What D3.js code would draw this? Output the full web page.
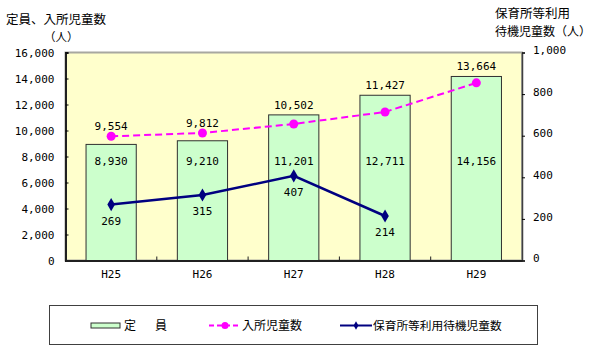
<!DOCTYPE html>
<html>
<head>
<meta charset="utf-8">
<script src="https://cdn.jsdelivr.net/npm/d3@7"></script>
<style>
  body { margin: 0; background: #fff; }
  svg text { font-family: "DejaVu Sans Mono", monospace; fill: #000; }
  svg text.jp { font-family: "Noto Sans CJK JP", sans-serif; }
</style>
</head>
<body>
<div id="chart"></div>
<script>
const categories = ['H25', 'H26', 'H27', 'H28', 'H29']
const capacity = [8930, 9210, 11201, 12711, 14156]
const enrolled = [9554, 9812, 10502, 11427, 13664]
const waiting = [269, 315, 407, 214, null]
const leftTicks = [0, 2000, 4000, 6000, 8000, 10000, 12000, 14000, 16000]
const rightTicks = [0, 200, 400, 600, 800, 1000]

const width = 597
const height = 353
const plot = { left: 65.5, right: 522, top: 52.5, bottom: 260.5 }

const svg = d3
  .select('#chart')
  .append('svg')
  .attr('width', width)
  .attr('height', height)

const xScale = d3.scaleBand().domain(categories).range([plot.left, plot.right])
const yLeft = d3.scaleLinear().domain([0, 16000]).range([plot.bottom, plot.top])
const yRight = d3.scaleLinear().domain([0, 1000]).range([plot.bottom, plot.top])
const fmt = d3.format(',')
const barW = xScale.bandwidth() * 0.55
const cx = c => xScale(c) + xScale.bandwidth() / 2

// plot background + border
svg
  .append('rect')
  .attr('x', plot.left)
  .attr('y', plot.top)
  .attr('width', plot.right - plot.left)
  .attr('height', plot.bottom - plot.top)
  .attr('fill', '#ffffcc')
  .attr('stroke', '#a8a8a0')
  .attr('stroke-width', 2)

// bars
svg
  .selectAll('.bar')
  .data(categories)
  .join('rect')
  .attr('class', 'bar')
  .attr('x', c => cx(c) - barW / 2)
  .attr('y', (c, i) => yLeft(capacity[i]))
  .attr('width', barW)
  .attr('height', (c, i) => plot.bottom - yLeft(capacity[i]))
  .attr('fill', '#ccffcc')
  .attr('stroke', '#303030')
  .attr('stroke-width', 1)

// axes
const leftAxis = d3
  .axisLeft(yLeft)
  .tickValues(leftTicks)
  .tickSize(-3)
  .tickPadding(11)
  .tickFormat(fmt)
const rightAxis = d3
  .axisRight(yRight)
  .tickValues(rightTicks)
  .tickSize(3)
  .tickPadding(8)
  .tickFormat(fmt)
const bottomAxis = d3.axisBottom(xScale).tickSize(0).tickPadding(10)

svg
  .append('g')
  .attr('transform', `translate(${plot.left},0)`)
  .call(leftAxis)
  .call(g => g.select('.domain').attr('stroke', '#202020').attr('stroke-width', 2))
  .call(g => g.selectAll('text').attr('font-size', 11).attr('font-family', 'DejaVu Sans Mono'))
svg
  .append('g')
  .attr('transform', `translate(${plot.right},0)`)
  .call(rightAxis)
  .call(g => g.select('.domain').attr('stroke', '#404040').attr('stroke-width', 1.5))
  .call(g => g.selectAll('text').attr('font-size', 11).attr('font-family', 'DejaVu Sans Mono').attr('dy', '0.1em'))
svg
  .append('g')
  .attr('transform', `translate(0,${plot.bottom})`)
  .call(bottomAxis)
  .call(g => g.select('.domain').attr('stroke', '#202020').attr('stroke-width', 2))
  .call(g => g.selectAll('text').attr('font-size', 11).attr('font-family', 'DejaVu Sans Mono'))

// category separator ticks on bottom axis
svg
  .selectAll('.sep')
  .data(categories.slice(1))
  .join('line')
  .attr('x1', c => xScale(c))
  .attr('x2', c => xScale(c))
  .attr('y1', plot.bottom)
  .attr('y2', plot.bottom - 4)
  .attr('stroke', '#202020')

// bar labels
svg
  .selectAll('.barlabel')
  .data(categories)
  .join('text')
  .attr('x', cx)
  .attr('y', 165)
  .attr('text-anchor', 'middle')
  .attr('font-size', 11)
  .text((c, i) => fmt(capacity[i]))

// enrolled line
const pinkLine = d3
  .line()
  .x((d, i) => cx(categories[i]))
  .y(d => yLeft(d))
svg
  .append('path')
  .attr('d', pinkLine(enrolled))
  .attr('fill', 'none')
  .attr('stroke', '#ff00ff')
  .attr('stroke-width', 2)
  .attr('stroke-dasharray', '7,4')
svg
  .selectAll('.pinkdot')
  .data(enrolled)
  .join('circle')
  .attr('cx', (d, i) => cx(categories[i]))
  .attr('cy', d => yLeft(d))
  .attr('r', 4.5)
  .attr('fill', '#ff00ff')
svg
  .selectAll('.pinklabel')
  .data(enrolled)
  .join('text')
  .attr('x', (d, i) => cx(categories[i]))
  .attr('y', (d, i) => Math.min(yLeft(d), yLeft(capacity[i])) - 6)
  .attr('text-anchor', 'middle')
  .attr('font-size', 11)
  .text(d => fmt(d))

// waiting line
const blueData = waiting
  .map((v, i) => ({ c: categories[i], v }))
  .filter(d => d.v != null)
const blueLine = d3
  .line()
  .x(d => cx(d.c))
  .y(d => yRight(d.v))
svg
  .append('path')
  .attr('d', blueLine(blueData))
  .attr('fill', 'none')
  .attr('stroke', '#000080')
  .attr('stroke-width', 2.5)
svg
  .selectAll('.bluedot')
  .data(blueData)
  .join('path')
  .attr('d', d3.symbol(d3.symbolDiamond, 50))
  .attr('transform', d => `translate(${cx(d.c)},${yRight(d.v)})`)
  .attr('fill', '#000080')
svg
  .selectAll('.bluelabel')
  .data(blueData)
  .join('text')
  .attr('x', d => cx(d.c))
  .attr('y', d => yRight(d.v) + 20)
  .attr('text-anchor', 'middle')
  .attr('font-size', 11)
  .text(d => fmt(d.v))

// axis titles
const jp = (x, y, s, t, g = svg) =>
  g.append('text').attr('class', 'jp').attr('x', x).attr('y', y).attr('font-size', s).text(t)
jp(6, 23.5, 12.5, '定員、入所児童数')
jp(44, 41, 11.5, '（人）')
jp(495, 18, 12.5, '保育所等利用')
jp(495, 36, 12, '待機児童数（人）')

// legend
const legend = svg.append('g')
legend
  .append('rect')
  .attr('x', 49.5)
  .attr('y', 305.5)
  .attr('width', 488)
  .attr('height', 39)
  .attr('fill', '#fff')
  .attr('stroke', '#404040')
  .attr('stroke-width', 1)
legend
  .append('rect')
  .attr('x', 91)
  .attr('y', 323)
  .attr('width', 29)
  .attr('height', 5)
  .attr('fill', '#ccffcc')
  .attr('stroke', '#303030')
jp(124, 330, 12, '定', legend)
jp(155, 330, 12, '員', legend)
legend
  .append('line')
  .attr('x1', 209)
  .attr('x2', 241)
  .attr('y1', 325.5)
  .attr('y2', 325.5)
  .attr('stroke', '#ff00ff')
  .attr('stroke-width', 2)
  .attr('stroke-dasharray', '5,3')
legend.append('circle').attr('cx', 225).attr('cy', 325.5).attr('r', 3.5).attr('fill', '#ff00ff')
jp(242, 330, 12, '入所児童数', legend)
legend
  .append('line')
  .attr('x1', 340)
  .attr('x2', 372)
  .attr('y1', 325.5)
  .attr('y2', 325.5)
  .attr('stroke', '#000080')
  .attr('stroke-width', 2)
legend
  .append('path')
  .attr('d', d3.symbol(d3.symbolDiamond, 20))
  .attr('transform', 'translate(356,325.5)')
  .attr('fill', '#000080')
jp(373, 330, 11.7, '保育所等利用待機児童数', legend)
</script>
</body>
</html>
